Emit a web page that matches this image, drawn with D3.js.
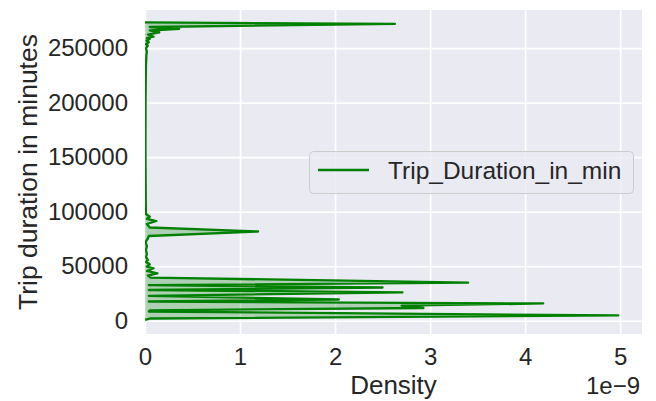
<!DOCTYPE html>
<html><head><meta charset="utf-8">
<script src="https://cdn.jsdelivr.net/npm/d3@7"></script>
<style>body{margin:0;background:#fff}svg{display:block}text{font-family:"Liberation Sans",Arial,sans-serif;fill:#262626}</style>
</head><body><svg id="c" width="656" height="401"></svg>
<script>
// Trip duration in minutes (y) and KDE density in units of 1e-9 (x)
const minutes = [800,2000,4800,8400,9500,11650,13850,15800,17600,19450,22850,26050,28150,30450,32550,34850,39600,41450,43500,45600,48100,49700,51700,53850,55700,58450,61200,64850,68500,72200,75400,77700,81800,85500,88700,91450,93300,95400,97900,110700,156600,202500,234600,243800,246800,249700,252300,253800,255400,257000,258400,259300,260500,262500,264500,266200,267800,269400,272200,273600];
const density = [0,0.05,4.98,0.04,0.05,2.93,2.70,4.19,0.04,2.04,0.04,2.71,0.04,2.50,0.04,3.40,0.06,0.03,0.13,0.02,0.09,0.02,0.05,0.01,0.03,0.01,0.02,0.01,0.02,0.005,0.03,0.04,1.19,0.05,0.02,0.12,0.02,0.05,0.01,0.008,0.005,0.006,0.01,0.015,0.02,0.01,0.03,0.01,0.04,0.015,0.05,0.02,0.09,0.03,0.15,0.05,0.36,0.05,2.63,0];
const xTicks = [0,1,2,3,4,5];
const yTicks = [0,50000,100000,150000,200000,250000];
const seriesName = "Trip_Duration_in_min";
const xLabel = "Density", yLabel = "Trip duration in minutes", offsetLabel = "1e\u22129";

const svg = d3.select("#c");
const L = 145, R = 642, T = 10, B = 334;
const x = d3.scaleLinear().domain([0, 5.23]).range([L, R]);
const y = d3.scaleLinear().domain([-12200, 285000]).range([B, T]);

svg.append("rect").attr("x", L).attr("y", T).attr("width", R - L).attr("height", B - T).attr("fill", "#eaeaf2");

const gx = svg.append("g").attr("transform", `translate(0,${B})`)
  .call(d3.axisBottom(x).tickValues(xTicks).tickSize(-(B - T)).tickPadding(14).tickFormat(d3.format("d")));
const gy = svg.append("g").attr("transform", `translate(${L},0)`)
  .call(d3.axisLeft(y).tickValues(yTicks).tickSize(-(R - L)).tickPadding(17).tickFormat(d3.format("d")));
[gx, gy].forEach(g => {
  g.select(".domain").remove();
  g.selectAll(".tick line").attr("stroke", "#fff").attr("stroke-width", 1.6);
  g.selectAll(".tick text").attr("font-size", 24).attr("fill", "#262626")
    .style("font-family", '"Liberation Sans",Arial,sans-serif');
});

const pts = minutes.map((m, i) => [m, density[i]]);
svg.append("clipPath").attr("id", "pc").append("rect").attr("x", L).attr("y", T).attr("width", R - L).attr("height", B - T);
const plot = svg.append("g").attr("clip-path", "url(#pc)");
plot.append("path").datum(pts)
  .attr("d", d3.area().y(d => y(d[0])).x0(x(0)).x1(d => x(d[1])))
  .attr("fill", "green").attr("fill-opacity", 0.25);
plot.append("path").datum(pts)
  .attr("d", d3.line().y(d => y(d[0])).x(d => x(d[1])))
  .attr("fill", "none").attr("stroke", "green").attr("stroke-width", 2.3).attr("stroke-linejoin", "round");

// legend
const lg = svg.append("g");
lg.append("rect").attr("x", 309.5).attr("y", 151.5).attr("width", 324).attr("height", 42).attr("rx", 4)
  .attr("fill", "#eaeaf2").attr("fill-opacity", 0.8).attr("stroke", "#cccccc");
lg.append("line").attr("x1", 318).attr("x2", 369).attr("y1", 170).attr("y2", 170).attr("stroke", "green").attr("stroke-width", 2.3);
lg.append("text").attr("x", 388).attr("y", 179).attr("font-size", 24.5).text(seriesName);

svg.append("text").attr("x", (L + R) / 2).attr("y", 394).attr("text-anchor", "middle").attr("font-size", 26).text(xLabel);
svg.append("text").attr("x", 640).attr("y", 394).attr("text-anchor", "end").attr("font-size", 24).text(offsetLabel);
svg.append("text").attr("transform", `translate(37,${(T + B) / 2}) rotate(-90)`).attr("text-anchor", "middle").attr("font-size", 26.5).text(yLabel);
</script></body></html>
